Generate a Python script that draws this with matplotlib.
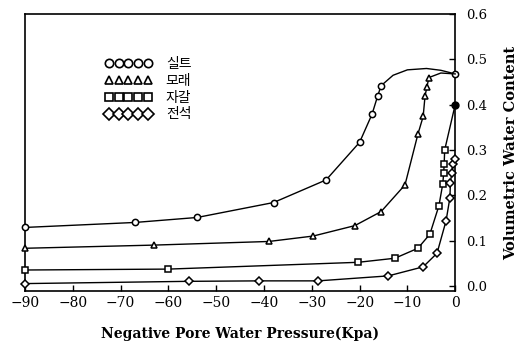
import numpy as np
import matplotlib
matplotlib.use('Agg')
import matplotlib.pyplot as plt
from matplotlib.lines import Line2D

plt.rcParams['font.family'] = ['DejaVu Serif']
plt.rcParams['axes.unicode_minus'] = True

# Soil water characteristic curves
silt_x = [-90, -67, -54, -38, -27, -20, -17.4, -16.2, -15.5, -13, -10, -6, -3, 0]
silt_y = [0.129, 0.140, 0.151, 0.184, 0.234, 0.317, 0.379, 0.420, 0.442, 0.465, 0.477, 0.480, 0.476, 0.468]
silt_marks = [0, 1, 2, 3, 4, 5, 6, 7, 8, 13]

sand_x = [-90, -63, -39, -29.7, -21, -15.5, -10.5, -7.8, -6.7, -6.3, -5.9, -5.5, -3, 0]
sand_y = [0.083, 0.090, 0.098, 0.110, 0.133, 0.164, 0.223, 0.335, 0.374, 0.420, 0.440, 0.460, 0.470, 0.468]
sand_marks = [0, 1, 2, 3, 4, 5, 6, 7, 8, 9, 10, 11]

gravel_x = [-90, -60, -20.3, -12.6, -7.8, -5.3, -3.4, -2.6, -2.4, -2.3, -2.2, 0]
gravel_y = [0.035, 0.037, 0.052, 0.061, 0.083, 0.114, 0.177, 0.225, 0.250, 0.270, 0.300, 0.400]
gravel_marks = list(range(11))

boulder_x = [-90, -55.7, -41, -28.7, -14, -6.7, -3.8, -1.9, -1.1, -1.0, -0.7, -0.5, 0]
boulder_y = [0.005, 0.010, 0.011, 0.011, 0.022, 0.042, 0.072, 0.144, 0.195, 0.228, 0.250, 0.270, 0.280]
boulder_marks = list(range(13))

labels = ['실트', '모래', '자갈', '전석']

x_ticks = [-90, -80, -70, -60, -50, -40, -30, -20, -10, 0]
y_ticks = [0.0, 0.1, 0.2, 0.3, 0.4, 0.5, 0.6]

fig = plt.figure(figsize=(5.22, 3.45), dpi=100)
ax = fig.add_axes([0.048, 0.157, 0.824, 0.802])

series = [
    (silt_x, silt_y, silt_marks, 'o'),
    (sand_x, sand_y, sand_marks, '^'),
    (gravel_x, gravel_y, gravel_marks, 's'),
    (boulder_x, boulder_y, boulder_marks, 'D'),
]
for xs, ys, marks, m in series:
    ax.plot(xs, ys, color='black', lw=1.0, marker=m, markevery=marks,
            ms=4.5, mfc='white', mec='black', mew=1.1, clip_on=False, zorder=3)

# gravel end point drawn filled
ax.plot(gravel_x[-1], gravel_y[-1], 'o', color='black', ms=5, clip_on=False, zorder=4)

ax.set_xlim(-90, 0)
ax.set_ylim(-0.011, 0.6)
ax.set_xticks(x_ticks)
ax.set_xticklabels([str(t).replace('-', '\u2212') for t in x_ticks], fontsize=10)
ax.set_yticks(y_ticks)
ax.set_yticklabels([f'{t:.1f}' for t in y_ticks], fontsize=9.5)
ax.yaxis.tick_right()
ax.yaxis.set_label_position('right')
ax.tick_params(axis='x', direction='in', length=4, width=1, pad=4)
ax.tick_params(axis='y', direction='in', length=4, width=1, pad=8)
for s in ax.spines.values():
    s.set_linewidth(1.2)

ax.set_xlabel('Negative Pore Water Pressure(Kpa)', fontsize=10, fontweight='bold', labelpad=12)
ax.set_ylabel('Volumetric Water Content', fontsize=10.5, fontweight='bold', labelpad=12)

handles = [Line2D([], [], ls='none', marker=m, ms=6, mfc='white', mec='black', mew=1.2)
           for m in ['o', '^', 's', 'D']]
ax.legend(handles, labels, loc='upper left', bbox_to_anchor=(0.185, 0.845), frameon=False,
          numpoints=5, handlelength=3.4, handletextpad=1.0, labelspacing=0.2,
          borderpad=0, borderaxespad=0,
          prop={'family': ['Noto Sans CJK KR'], 'size': 10})

fig.savefig('out.png', dpi=100)
